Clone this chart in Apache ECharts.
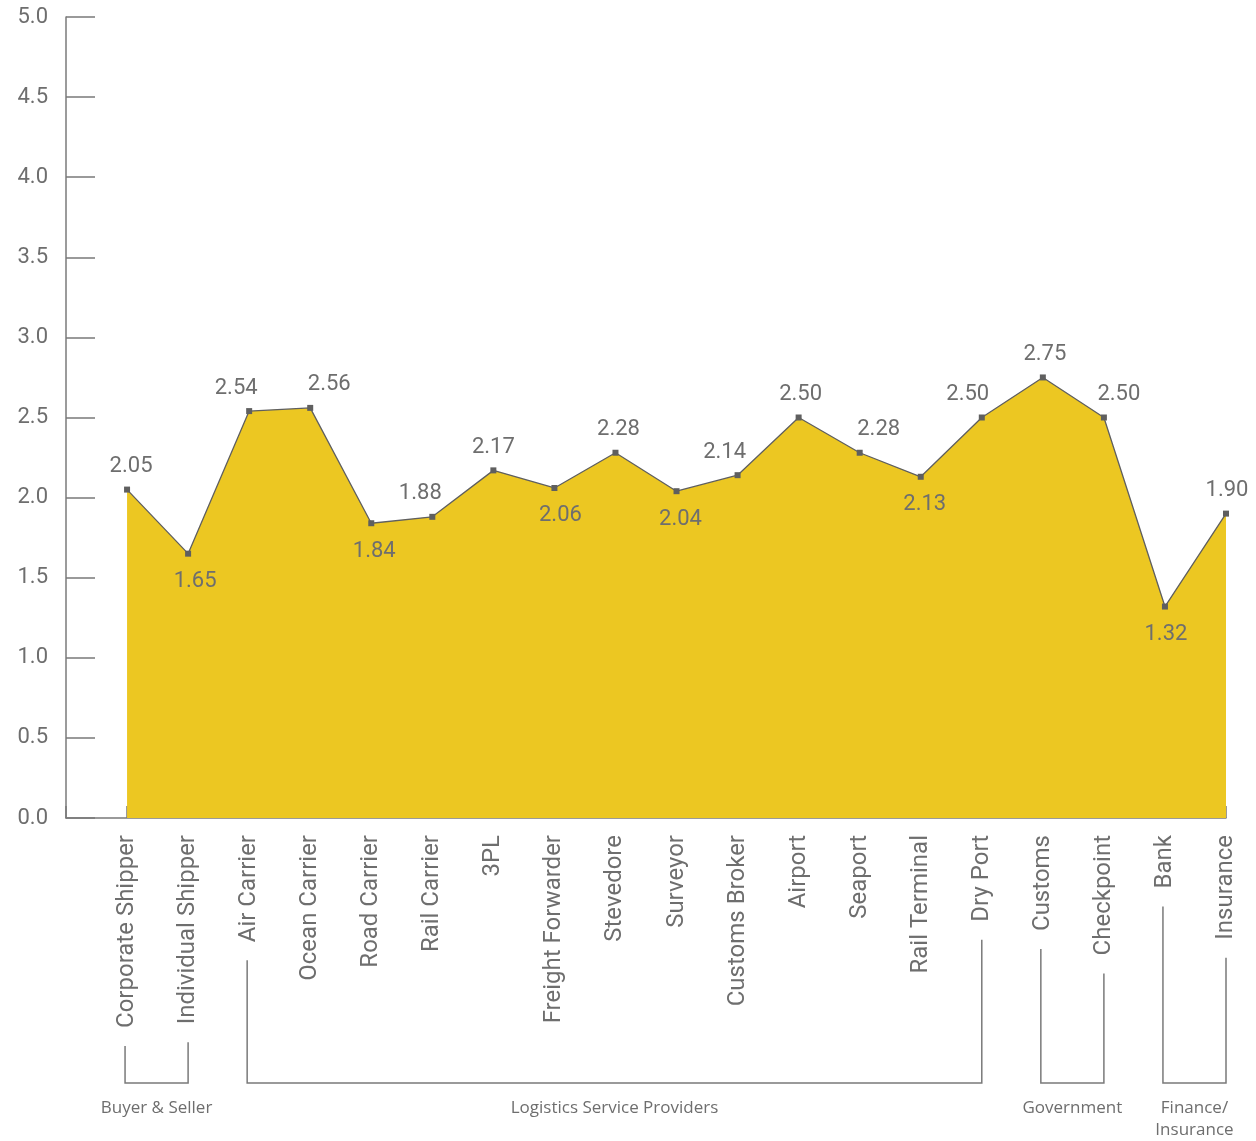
<!DOCTYPE html>
<html>
<head>
<meta charset="utf-8">
<script src="https://cdn.jsdelivr.net/npm/echarts@6/dist/echarts.min.js"></script>
<style>
  html, body { margin: 0; padding: 0; background: #fff; }
  #main { width: 1256px; height: 1141px; }
</style>
</head>
<body>
<div id="main"></div>
<script>
// chart values
const categories = ['Corporate Shipper', 'Individual Shipper', 'Air Carrier', 'Ocean Carrier', 'Road Carrier',
  'Rail Carrier', '3PL', 'Freight Forwarder', 'Stevedore', 'Surveyor', 'Customs Broker', 'Airport',
  'Seaport', 'Rail Terminal', 'Dry Port', 'Customs', 'Checkpoint', 'Bank', 'Insurance']
const scores = [2.05, 1.65, 2.54, 2.56, 1.84, 1.88, 2.17, 2.06, 2.28, 2.04, 2.14, 2.50, 2.28, 2.13, 2.50, 2.75, 2.50, 1.32, 1.90]
const yMin = 0
const yMax = 5
const yStep = 0.5
const groupNames = ['Buyer & Seller', 'Logistics Service Providers', 'Government', 'Finance/\nInsurance']
const groupFirst = ['Corporate Shipper', 'Air Carrier', 'Customs', 'Bank']
const groupLast = ['Individual Shipper', 'Dry Port', 'Checkpoint', 'Insurance']

// label placement (layout only)
const labelSide = ['top', 'bottom', 'top', 'top', 'bottom', 'top', 'top', 'bottom', 'top', 'bottom',
  'top', 'top', 'top', 'bottom', 'top', 'top', 'top', 'bottom', 'top']
const labelShift = [4, 7, -13, 19, 3, -12, 0, 6, 3, 4, -13, 2, 19, 4, -14, 2, 15, 1, 1]

const FONT = 'Roboto, "Open Sans", sans-serif'
const GRAY = '#6e6e6e'
const AXIS = '#7a7a7a'
const LABEL_MARGIN = 17
const LABEL_SIZE = 24

const chart = echarts.init(document.getElementById('main'))

const seriesData = [{ value: '-' }].concat(scores.map((v, i) => ({
  value: v,
  label: {
    position: labelSide[i],
    distance: labelSide[i] === 'top' ? 9 : 14,
    offset: [labelShift[i], 0]
  }
})))

chart.setOption({
  animation: false,
  grid: {
    left: 66,
    right: 30,
    top: 17,
    bottom: 323,
    containLabel: false
  },
  xAxis: {
    type: 'category',
    data: [''].concat(categories),
    boundaryGap: false,
    axisLine: { lineStyle: { color: AXIS, width: 1.5 } },
    axisTick: { show: true, inside: true, length: 12, interval: 0, lineStyle: { color: AXIS, width: 1.5 } },
    axisLabel: {
      interval: 0,
      rotate: 90,
      margin: LABEL_MARGIN,
      color: GRAY,
      fontSize: LABEL_SIZE,
      fontFamily: FONT
    },
    splitLine: { show: false }
  },
  yAxis: {
    type: 'value',
    min: yMin,
    max: yMax,
    interval: yStep,
    axisLine: { show: true, lineStyle: { color: AXIS, width: 1.5 } },
    axisTick: { show: true, inside: true, length: 29, lineStyle: { color: AXIS, width: 1.5 } },
    axisLabel: {
      margin: 18,
      color: GRAY,
      fontSize: 22,
      fontFamily: FONT,
      formatter: v => v.toFixed(1)
    },
    splitLine: { show: false }
  },
  series: [{
    type: 'line',
    data: seriesData,
    symbol: 'rect',
    symbolSize: 6,
    showAllSymbol: true,
    itemStyle: { color: '#5f5f5f' },
    lineStyle: { color: '#5f5f5f', width: 1.3 },
    areaStyle: { color: '#ecc722', opacity: 1 },
    label: {
      show: true,
      color: GRAY,
      fontSize: 22,
      fontFamily: FONT,
      formatter: p => p.value.toFixed(2)
    },
    z: 1
  }]
})

// group brackets under the rotated category labels
function drawBrackets() {
  const ctx = document.createElement('canvas').getContext('2d')
  ctx.font = LABEL_SIZE + 'px ' + FONT
  const axisY = chart.convertToPixel({ yAxisIndex: 0 }, 0)
  const baseY = 1083
  const gap = 18
  const els = []
  groupNames.forEach((name, g) => {
    const a = groupFirst[g]
    const b = groupLast[g]
    const xa = chart.convertToPixel({ xAxisIndex: 0 }, a) - 2
    const xb = chart.convertToPixel({ xAxisIndex: 0 }, b)
    const topA = axisY + LABEL_MARGIN + ctx.measureText(a).width + gap
    const topB = axisY + LABEL_MARGIN + ctx.measureText(b).width + gap
    els.push({
      type: 'polyline',
      shape: { points: [[xa, topA], [xa, baseY], [xb, baseY], [xb, topB]] },
      style: { stroke: AXIS, lineWidth: 1.5, fill: null }
    })
    els.push({
      type: 'text',
      x: (xa + xb) / 2,
      y: 1097,
      style: {
        text: name,
        textAlign: 'center',
        textVerticalAlign: 'top',
        fill: GRAY,
        font: '17px "Open Sans", sans-serif',
        lineHeight: 22
      }
    })
  })
  chart.setOption({ graphic: { elements: els } })
}
drawBrackets()
</script>
</body>
</html>
